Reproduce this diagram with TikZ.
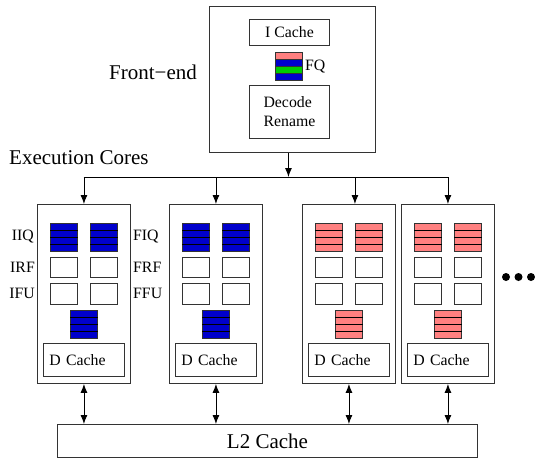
\documentclass[tikz,border=0pt]{standalone}
\usepackage{fontspec}
\setmainfont{Liberation Serif}
\usetikzlibrary{arrows.meta,calc}
\definecolor{qblue}{RGB}{0,0,204}
\definecolor{qpink}{RGB}{255,128,128}
\definecolor{qgreen}{RGB}{0,204,0}
\newcommand\myqueue[4]{%
  \node[box, fill=#4, minimum width=27pt, minimum height=28pt] (#1) at (#2,#3) {};
  \foreach \f in {0.25,0.5,0.75}{\draw[black, line width=0.9pt] ($(#1.north west)!\f!(#1.south west)$) -- ($(#1.north east)!\f!(#1.south east)$);}%
}
\newcommand\mycore[3]{%
  \node[box, minimum width=93pt, minimum height=179pt] (#1) at (#2,204) {};
  \myqueue{#1qa}{#2+13}{223}{#3}
  \myqueue{#1qb}{#2+53}{223}{#3}
  \node[box, minimum width=27pt, minimum height=20pt] (#1rfa) at (#2+13,257) {};
  \node[box, minimum width=27pt, minimum height=20pt] (#1rfb) at (#2+53,257) {};
  \node[box, minimum width=27pt, minimum height=21pt] (#1fua) at (#2+13,283) {};
  \node[box, minimum width=27pt, minimum height=21pt] (#1fub) at (#2+53,283) {};
  \myqueue{#1qc}{#2+33}{310}{#3}
  \node[box, smallf, minimum width=81pt, minimum height=33pt, inner xsep=6pt, text width=69pt, align=left] (#1dc) at (#2+6,343) {D Cache};
}
\begin{document}
\begin{tikzpicture}[x=1pt,y=-1pt,
  box/.style={draw=black!80, line width=0.9pt, rectangle, inner sep=0pt, anchor=north west},
  smallf/.style={font=\fontsize{15.8}{19}\selectfont},
  bigf/.style={font=\fontsize{21}{24}\selectfont},
  lbl/.style={smallf, inner sep=1pt},
  arr/.style={-{Latex[length=9pt,width=7pt]}, line width=0.9pt},
  darr/.style={{Latex[length=9pt,width=7pt]}-{Latex[length=9pt,width=7pt]}, line width=0.9pt}]
\useasboundingbox (0,0) rectangle (535,459);

% Front-end
\node[box, minimum width=166pt, minimum height=146pt] (fe) at (209,6) {};
\node[box, smallf, minimum width=80pt, minimum height=26pt] (icache) at (249,19) {I Cache};
\node[box, fill=qpink, minimum width=27pt, minimum height=7pt] (fq1) at (275,52) {};
\node[box, fill=qblue, minimum width=27pt, minimum height=7pt] (fq2) at (275,59) {};
\node[box, fill=qgreen, minimum width=27pt, minimum height=7pt] (fq3) at (275,66) {};
\node[box, fill=qblue, minimum width=27pt, minimum height=7pt] (fq4) at (275,73) {};
\node[lbl, anchor=west] (fqlbl) at (304,67) {FQ};
\node[box, smallf, minimum width=80pt, minimum height=53pt, align=left] (dec) at (249,85) {Decode\\Rename};
\node[bigf, inner sep=0pt] (felbl) at (153,72) {Front\textminus end};
\node[bigf, inner sep=0pt, anchor=west] (eclbl) at (9,158) {Execution Cores};

% Cores
\mycore{ca}{37}{qblue}
\mycore{cb}{169}{qblue}
\mycore{cc}{302}{qpink}
\mycore{cd}{401}{qpink}

% Core labels
\node[lbl, anchor=east] (iiq) at (35,237) {IIQ};
\node[lbl, anchor=east] (irf) at (36,267) {IRF};
\node[lbl, anchor=east] (ifu) at (36,293) {IFU};
\node[lbl, anchor=west] (fiq) at (132,237) {FIQ};
\node[lbl, anchor=west] (frf) at (132,267) {FRF};
\node[lbl, anchor=west] (ffu) at (132,293) {FFU};

% Dots
\node[circle, fill, inner sep=0pt, minimum size=8pt] (d1) at (506,277) {};
\node[circle, fill, inner sep=0pt, minimum size=8pt] (d2) at (518.5,277) {};
\node[circle, fill, inner sep=0pt, minimum size=8pt] (d3) at (531,277) {};

% L2
\node[box, bigf, minimum width=420pt, minimum height=33pt] (l2) at (57,424) {L2 Cache};

% Bus
\coordinate (busL) at (83.5,177);
\coordinate (busR) at (447.5,177);
\draw[line width=0.9pt] (busL) -- (busR);
\coordinate (febot) at ($(fe.south)+(-4,0)$);
\draw[arr] (febot) -- (febot |- busL);
\draw[arr] (ca.north |- busL) -- (ca.north);
\draw[arr] (cb.north |- busL) -- (cb.north);
\coordinate (c3top) at ($(cc.north)+(6,0)$);
\draw[arr] (c3top |- busL) -- (c3top);
\draw[arr] (cd.north |- busL) -- (cd.north);

% To L2
\draw[darr] (ca.south) -- (ca.south |- l2.north);
\draw[darr] (cb.south) -- (cb.south |- l2.north);
\draw[darr] (cc.south) -- (cc.south |- l2.north);
\draw[darr] (cd.south) -- (cd.south |- l2.north);
\end{tikzpicture}
\end{document}
